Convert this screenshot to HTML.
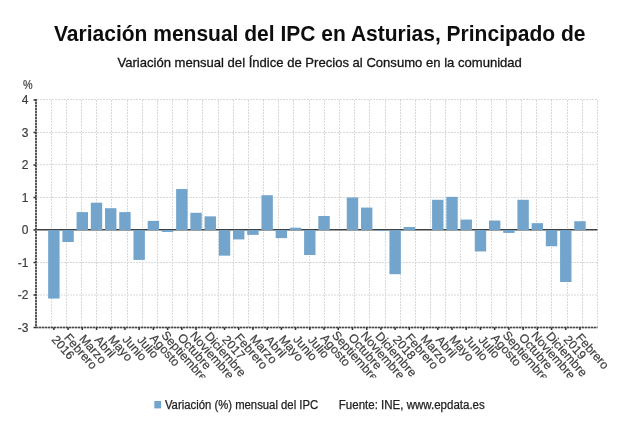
<!DOCTYPE html>
<html><head><meta charset="utf-8"><style>
html,body{margin:0;padding:0;background:#fff;width:640px;height:431px;overflow:hidden}
svg{display:block;will-change:transform}
text{font-family:"Liberation Sans",Arial,sans-serif;fill:#333}
.t{font-size:22px;font-weight:bold;fill:#0d0d0d}
.st{font-size:13px;fill:#151515;stroke:#151515;stroke-width:0.3px}
.yl{font-size:12px;text-anchor:end;fill:#3c3c3c;stroke:#3c3c3c;stroke-width:0.2px}
.xl{font-size:12.2px;fill:#3c3c3c;stroke:#3c3c3c;stroke-width:0.2px}
.lg{font-size:12px;fill:#222;stroke:#222;stroke-width:0.25px}
.g{stroke:#d9d9d9;stroke-width:1;stroke-dasharray:2 1}
.b{fill:#72a4cc}
.z{stroke:#404040;stroke-width:1.5}
.ax{stroke:#484848;stroke-width:1.7;stroke-dasharray:2 1}
.axu{stroke:#a8a8a8;stroke-width:1.7}
.tk{stroke:#333;stroke-width:1.5}
</style></head><body>
<svg width="640" height="431" viewBox="0 0 640 431">
<text x="54" y="41.3" textLength="531.5" lengthAdjust="spacingAndGlyphs" class="t">Variación mensual del IPC en Asturias, Principado de</text>
<text x="117.4" y="66.6" textLength="404.5" lengthAdjust="spacingAndGlyphs" class="st">Variación mensual del Índice de Precios al Consumo en la comunidad</text>
<text x="23" y="88.6" class="yl" style="text-anchor:start" textLength="9.6" lengthAdjust="spacingAndGlyphs">%</text>
<line x1="37.0" y1="99.5" x2="597.5" y2="99.5" class="g"/>
<line x1="37.0" y1="132.5" x2="597.5" y2="132.5" class="g"/>
<line x1="37.0" y1="164.7" x2="597.5" y2="164.7" class="g"/>
<line x1="37.0" y1="197.5" x2="597.5" y2="197.5" class="g"/>
<line x1="37.0" y1="262.5" x2="597.5" y2="262.5" class="g"/>
<line x1="37.0" y1="295.0" x2="597.5" y2="295.0" class="g"/>
<line x1="51.50" y1="100.0" x2="51.50" y2="327.5" class="g"/>
<line x1="66.50" y1="100.0" x2="66.50" y2="327.5" class="g"/>
<line x1="81.50" y1="100.0" x2="81.50" y2="327.5" class="g"/>
<line x1="96.50" y1="100.0" x2="96.50" y2="327.5" class="g"/>
<line x1="111.50" y1="100.0" x2="111.50" y2="327.5" class="g"/>
<line x1="127.50" y1="100.0" x2="127.50" y2="327.5" class="g"/>
<line x1="142.50" y1="100.0" x2="142.50" y2="327.5" class="g"/>
<line x1="157.50" y1="100.0" x2="157.50" y2="327.5" class="g"/>
<line x1="172.50" y1="100.0" x2="172.50" y2="327.5" class="g"/>
<line x1="187.50" y1="100.0" x2="187.50" y2="327.5" class="g"/>
<line x1="202.50" y1="100.0" x2="202.50" y2="327.5" class="g"/>
<line x1="218.50" y1="100.0" x2="218.50" y2="327.5" class="g"/>
<line x1="233.50" y1="100.0" x2="233.50" y2="327.5" class="g"/>
<line x1="248.50" y1="100.0" x2="248.50" y2="327.5" class="g"/>
<line x1="263.50" y1="100.0" x2="263.50" y2="327.5" class="g"/>
<line x1="278.50" y1="100.0" x2="278.50" y2="327.5" class="g"/>
<line x1="293.50" y1="100.0" x2="293.50" y2="327.5" class="g"/>
<line x1="309.50" y1="100.0" x2="309.50" y2="327.5" class="g"/>
<line x1="324.50" y1="100.0" x2="324.50" y2="327.5" class="g"/>
<line x1="339.50" y1="100.0" x2="339.50" y2="327.5" class="g"/>
<line x1="354.50" y1="100.0" x2="354.50" y2="327.5" class="g"/>
<line x1="369.50" y1="100.0" x2="369.50" y2="327.5" class="g"/>
<line x1="385.50" y1="100.0" x2="385.50" y2="327.5" class="g"/>
<line x1="400.50" y1="100.0" x2="400.50" y2="327.5" class="g"/>
<line x1="415.50" y1="100.0" x2="415.50" y2="327.5" class="g"/>
<line x1="430.50" y1="100.0" x2="430.50" y2="327.5" class="g"/>
<line x1="445.50" y1="100.0" x2="445.50" y2="327.5" class="g"/>
<line x1="460.50" y1="100.0" x2="460.50" y2="327.5" class="g"/>
<line x1="476.50" y1="100.0" x2="476.50" y2="327.5" class="g"/>
<line x1="491.50" y1="100.0" x2="491.50" y2="327.5" class="g"/>
<line x1="506.50" y1="100.0" x2="506.50" y2="327.5" class="g"/>
<line x1="521.50" y1="100.0" x2="521.50" y2="327.5" class="g"/>
<line x1="536.50" y1="100.0" x2="536.50" y2="327.5" class="g"/>
<line x1="551.50" y1="100.0" x2="551.50" y2="327.5" class="g"/>
<line x1="567.50" y1="100.0" x2="567.50" y2="327.5" class="g"/>
<line x1="582.50" y1="100.0" x2="582.50" y2="327.5" class="g"/>
<line x1="597.50" y1="100.0" x2="597.50" y2="327.5" class="g"/>
<line x1="36.0" y1="229.8" x2="597.5" y2="229.8" class="z"/>
<rect x="48.15" y="230.00" width="11.4" height="68.58" class="b"/>
<rect x="62.37" y="230.00" width="11.4" height="12.03" class="b"/>
<rect x="76.59" y="212.12" width="11.4" height="17.88" class="b"/>
<rect x="90.81" y="202.70" width="11.4" height="27.30" class="b"/>
<rect x="105.03" y="208.22" width="11.4" height="21.78" class="b"/>
<rect x="119.25" y="212.12" width="11.4" height="17.88" class="b"/>
<rect x="133.47" y="230.00" width="11.4" height="29.90" class="b"/>
<rect x="147.69" y="220.90" width="11.4" height="9.10" class="b"/>
<rect x="161.91" y="230.00" width="11.4" height="1.95" class="b"/>
<rect x="176.13" y="189.05" width="11.4" height="40.95" class="b"/>
<rect x="190.35" y="212.78" width="11.4" height="17.23" class="b"/>
<rect x="204.57" y="216.35" width="11.4" height="13.65" class="b"/>
<rect x="218.79" y="230.00" width="11.4" height="25.68" class="b"/>
<rect x="233.01" y="230.00" width="11.4" height="9.42" class="b"/>
<rect x="247.23" y="230.00" width="11.4" height="4.88" class="b"/>
<rect x="261.45" y="195.22" width="11.4" height="34.77" class="b"/>
<rect x="275.67" y="230.00" width="11.4" height="8.12" class="b"/>
<rect x="289.89" y="227.72" width="11.4" height="2.28" class="b"/>
<rect x="304.11" y="230.00" width="11.4" height="25.03" class="b"/>
<rect x="318.33" y="216.03" width="11.4" height="13.97" class="b"/>
<rect x="346.77" y="197.50" width="11.4" height="32.50" class="b"/>
<rect x="360.99" y="207.57" width="11.4" height="22.42" class="b"/>
<rect x="375.21" y="230.00" width="11.4" height="0.97" class="b"/>
<rect x="389.43" y="230.00" width="11.4" height="44.20" class="b"/>
<rect x="403.65" y="227.07" width="11.4" height="2.92" class="b"/>
<rect x="432.09" y="199.78" width="11.4" height="30.23" class="b"/>
<rect x="446.31" y="196.85" width="11.4" height="33.15" class="b"/>
<rect x="460.53" y="219.60" width="11.4" height="10.40" class="b"/>
<rect x="474.75" y="230.00" width="11.4" height="21.45" class="b"/>
<rect x="488.97" y="220.57" width="11.4" height="9.42" class="b"/>
<rect x="503.19" y="230.00" width="11.4" height="2.92" class="b"/>
<rect x="517.41" y="199.78" width="11.4" height="30.23" class="b"/>
<rect x="531.63" y="223.18" width="11.4" height="6.83" class="b"/>
<rect x="545.85" y="230.00" width="11.4" height="16.25" class="b"/>
<rect x="560.07" y="230.00" width="11.4" height="52.00" class="b"/>
<rect x="574.29" y="221.22" width="11.4" height="8.78" class="b"/>
<line x1="36.0" y1="99.0" x2="36.0" y2="327.5" class="axu"/>
<line x1="36.0" y1="327.5" x2="597.5" y2="327.5" class="axu"/>
<line x1="36.0" y1="99.0" x2="36.0" y2="327.5" class="ax"/>
<line x1="36.0" y1="327.5" x2="597.5" y2="327.5" class="ax"/>
<line x1="33.5" y1="100.0" x2="36.0" y2="100.0" class="tk"/>
<text x="28.5" y="104.2" class="yl">4</text>
<line x1="33.5" y1="132.5" x2="36.0" y2="132.5" class="tk"/>
<text x="28.5" y="136.7" class="yl">3</text>
<line x1="33.5" y1="165.0" x2="36.0" y2="165.0" class="tk"/>
<text x="28.5" y="169.2" class="yl">2</text>
<line x1="33.5" y1="197.5" x2="36.0" y2="197.5" class="tk"/>
<text x="28.5" y="201.7" class="yl">1</text>
<line x1="33.5" y1="230.0" x2="36.0" y2="230.0" class="tk"/>
<text x="28.5" y="234.2" class="yl">0</text>
<line x1="33.5" y1="262.5" x2="36.0" y2="262.5" class="tk"/>
<text x="28.5" y="266.7" class="yl">-1</text>
<line x1="33.5" y1="295.0" x2="36.0" y2="295.0" class="tk"/>
<text x="28.5" y="299.2" class="yl">-2</text>
<line x1="33.5" y1="327.5" x2="36.0" y2="327.5" class="tk"/>
<text x="28.5" y="331.7" class="yl">-3</text>
<line x1="53.85" y1="327.5" x2="53.85" y2="330.0" class="tk"/>
<line x1="68.07" y1="327.5" x2="68.07" y2="330.0" class="tk"/>
<line x1="82.29" y1="327.5" x2="82.29" y2="330.0" class="tk"/>
<line x1="96.51" y1="327.5" x2="96.51" y2="330.0" class="tk"/>
<line x1="110.73" y1="327.5" x2="110.73" y2="330.0" class="tk"/>
<line x1="124.95" y1="327.5" x2="124.95" y2="330.0" class="tk"/>
<line x1="139.17" y1="327.5" x2="139.17" y2="330.0" class="tk"/>
<line x1="153.39" y1="327.5" x2="153.39" y2="330.0" class="tk"/>
<line x1="167.61" y1="327.5" x2="167.61" y2="330.0" class="tk"/>
<line x1="181.83" y1="327.5" x2="181.83" y2="330.0" class="tk"/>
<line x1="196.05" y1="327.5" x2="196.05" y2="330.0" class="tk"/>
<line x1="210.27" y1="327.5" x2="210.27" y2="330.0" class="tk"/>
<line x1="224.49" y1="327.5" x2="224.49" y2="330.0" class="tk"/>
<line x1="238.71" y1="327.5" x2="238.71" y2="330.0" class="tk"/>
<line x1="252.93" y1="327.5" x2="252.93" y2="330.0" class="tk"/>
<line x1="267.15" y1="327.5" x2="267.15" y2="330.0" class="tk"/>
<line x1="281.37" y1="327.5" x2="281.37" y2="330.0" class="tk"/>
<line x1="295.59" y1="327.5" x2="295.59" y2="330.0" class="tk"/>
<line x1="309.81" y1="327.5" x2="309.81" y2="330.0" class="tk"/>
<line x1="324.03" y1="327.5" x2="324.03" y2="330.0" class="tk"/>
<line x1="338.25" y1="327.5" x2="338.25" y2="330.0" class="tk"/>
<line x1="352.47" y1="327.5" x2="352.47" y2="330.0" class="tk"/>
<line x1="366.69" y1="327.5" x2="366.69" y2="330.0" class="tk"/>
<line x1="380.91" y1="327.5" x2="380.91" y2="330.0" class="tk"/>
<line x1="395.13" y1="327.5" x2="395.13" y2="330.0" class="tk"/>
<line x1="409.35" y1="327.5" x2="409.35" y2="330.0" class="tk"/>
<line x1="423.57" y1="327.5" x2="423.57" y2="330.0" class="tk"/>
<line x1="437.79" y1="327.5" x2="437.79" y2="330.0" class="tk"/>
<line x1="452.01" y1="327.5" x2="452.01" y2="330.0" class="tk"/>
<line x1="466.23" y1="327.5" x2="466.23" y2="330.0" class="tk"/>
<line x1="480.45" y1="327.5" x2="480.45" y2="330.0" class="tk"/>
<line x1="494.67" y1="327.5" x2="494.67" y2="330.0" class="tk"/>
<line x1="508.89" y1="327.5" x2="508.89" y2="330.0" class="tk"/>
<line x1="523.11" y1="327.5" x2="523.11" y2="330.0" class="tk"/>
<line x1="537.33" y1="327.5" x2="537.33" y2="330.0" class="tk"/>
<line x1="551.55" y1="327.5" x2="551.55" y2="330.0" class="tk"/>
<line x1="565.77" y1="327.5" x2="565.77" y2="330.0" class="tk"/>
<line x1="579.99" y1="327.5" x2="579.99" y2="330.0" class="tk"/>
<clipPath id="lc"><rect x="0" y="320" width="640" height="57.5"/></clipPath><g clip-path="url(#lc)"><text transform="translate(50.97,340.02) rotate(48.5)" class="xl">2016</text>
<text transform="translate(63.40,338.00) rotate(48.5)" class="xl">Febrero</text>
<text transform="translate(78.63,339.14) rotate(48.5)" class="xl">Marzo</text>
<text transform="translate(93.94,340.37) rotate(48.5)" class="xl">Abril</text>
<text transform="translate(107.54,339.67) rotate(48.5)" class="xl">Mayo</text>
<text transform="translate(121.83,339.76) rotate(48.5)" class="xl">Junio</text>
<text transform="translate(136.52,340.29) rotate(48.5)" class="xl">Julio</text>
<text transform="translate(149.26,338.62) rotate(48.5)" class="xl">Agosto</text>
<text transform="translate(160.68,335.45) rotate(48.5)" class="xl">Septiembre</text>
<text transform="translate(177.08,337.92) rotate(48.5)" class="xl">Octubre</text>
<text transform="translate(189.51,335.89) rotate(48.5)" class="xl">Noviembre</text>
<text transform="translate(204.20,336.42) rotate(48.5)" class="xl">Diciembre</text>
<text transform="translate(221.61,340.02) rotate(48.5)" class="xl">2017</text>
<text transform="translate(234.04,338.00) rotate(48.5)" class="xl">Febrero</text>
<text transform="translate(249.27,339.14) rotate(48.5)" class="xl">Marzo</text>
<text transform="translate(264.58,340.37) rotate(48.5)" class="xl">Abril</text>
<text transform="translate(278.18,339.67) rotate(48.5)" class="xl">Mayo</text>
<text transform="translate(292.47,339.76) rotate(48.5)" class="xl">Junio</text>
<text transform="translate(307.16,340.29) rotate(48.5)" class="xl">Julio</text>
<text transform="translate(319.90,338.62) rotate(48.5)" class="xl">Agosto</text>
<text transform="translate(331.32,335.45) rotate(48.5)" class="xl">Septiembre</text>
<text transform="translate(347.72,337.92) rotate(48.5)" class="xl">Octubre</text>
<text transform="translate(360.15,335.89) rotate(48.5)" class="xl">Noviembre</text>
<text transform="translate(374.84,336.42) rotate(48.5)" class="xl">Diciembre</text>
<text transform="translate(392.25,340.02) rotate(48.5)" class="xl">2018</text>
<text transform="translate(404.68,338.00) rotate(48.5)" class="xl">Febrero</text>
<text transform="translate(419.91,339.14) rotate(48.5)" class="xl">Marzo</text>
<text transform="translate(435.22,340.37) rotate(48.5)" class="xl">Abril</text>
<text transform="translate(448.82,339.67) rotate(48.5)" class="xl">Mayo</text>
<text transform="translate(463.11,339.76) rotate(48.5)" class="xl">Junio</text>
<text transform="translate(477.80,340.29) rotate(48.5)" class="xl">Julio</text>
<text transform="translate(490.54,338.62) rotate(48.5)" class="xl">Agosto</text>
<text transform="translate(501.96,335.45) rotate(48.5)" class="xl">Septiembre</text>
<text transform="translate(518.36,337.92) rotate(48.5)" class="xl">Octubre</text>
<text transform="translate(530.79,335.89) rotate(48.5)" class="xl">Noviembre</text>
<text transform="translate(545.48,336.42) rotate(48.5)" class="xl">Diciembre</text>
<text transform="translate(562.89,340.02) rotate(48.5)" class="xl">2019</text>
<text transform="translate(575.32,338.00) rotate(48.5)" class="xl">Febrero</text></g>
<rect x="154.3" y="401" width="6.8" height="7.4" fill="#72a4cc"/>
<text x="164.9" y="409.1" textLength="153.3" lengthAdjust="spacingAndGlyphs" class="lg">Variación (%) mensual del IPC</text>
<text x="338.8" y="409.1" textLength="146" lengthAdjust="spacingAndGlyphs" class="lg">Fuente: INE, www.epdata.es</text>
</svg>
</body></html>
